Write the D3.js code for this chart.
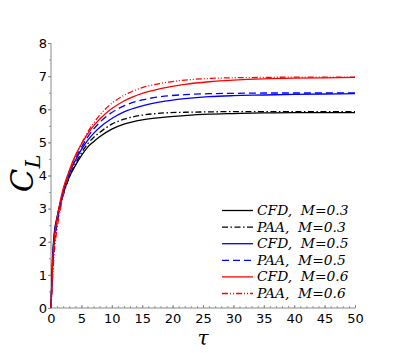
<!DOCTYPE html>
<html>
<head>
<meta charset="utf-8">
<script src="https://cdn.jsdelivr.net/npm/d3@7"></script>
<style>
  body { margin: 0; background: #fff; }
  .tick text { font-family: "DejaVu Sans", sans-serif; font-size: 13px; fill: #000; }
  .legend text { font-family: "DejaVu Serif", serif; font-style: italic; font-size: 13.8px; white-space: pre; }
</style>
</head>
<body>
<div id="chart"></div>
<script>
// time samples (tau)
let tau = [0, 0.25, 0.5, 1, 1.5, 2, 3, 4, 5, 6, 7, 8, 10, 12, 15, 18, 22, 26, 30, 35, 40, 45, 50];

let cfd03 = [0, 1.5, 2.2, 2.75, 3.15, 3.45, 3.95, 4.3, 4.6, 4.85, 5.02, 5.17, 5.4, 5.55, 5.68, 5.75, 5.81, 5.85, 5.87, 5.89, 5.9, 5.9, 5.9];
let paa03 = [0, 1.2, 1.9, 2.6, 3.05, 3.4, 3.95, 4.35, 4.68, 4.95, 5.15, 5.3, 5.55, 5.7, 5.82, 5.88, 5.91, 5.92, 5.93, 5.93, 5.93, 5.93, 5.93];
let cfd05 = [0, 1.4, 2.1, 2.7, 3.15, 3.5, 4.05, 4.45, 4.78, 5.05, 5.27, 5.45, 5.72, 5.92, 6.1, 6.22, 6.32, 6.38, 6.41, 6.43, 6.45, 6.46, 6.47];
let paa05 = [0, 1.1, 1.8, 2.55, 3.05, 3.45, 4.05, 4.5, 4.85, 5.15, 5.4, 5.6, 5.9, 6.1, 6.28, 6.38, 6.44, 6.47, 6.48, 6.49, 6.49, 6.49, 6.49];
let cfd06 = [0, 1.3, 2.0, 2.7, 3.2, 3.6, 4.15, 4.6, 4.95, 5.25, 5.5, 5.7, 6.02, 6.25, 6.48, 6.62, 6.75, 6.83, 6.88, 6.92, 6.94, 6.95, 6.96];
let paa06 = [0, 0.9, 1.6, 2.4, 2.95, 3.4, 4.05, 4.55, 4.95, 5.3, 5.58, 5.82, 6.18, 6.42, 6.65, 6.78, 6.88, 6.93, 6.95, 6.96, 6.97, 6.97, 6.97];

let seriesNames = ["CFD,  M=0.3", "PAA,  M=0.3", "CFD,  M=0.5", "PAA,  M=0.5", "CFD,  M=0.6", "PAA,  M=0.6"];
let xTicks = [0, 5, 10, 15, 20, 25, 30, 35, 40, 45, 50];
let yTicks = [0, 1, 2, 3, 4, 5, 6, 7, 8];

let series = [
    {name: seriesNames[0], values: cfd03, color: "#000000", dash: null},
    {name: seriesNames[1], values: paa03, color: "#000000", dash: "6,2.5,1.5,2.5"},
    {name: seriesNames[2], values: cfd05, color: "#0000ff", dash: null},
    {name: seriesNames[3], values: paa05, color: "#0000ff", dash: "7,4"},
    {name: seriesNames[4], values: cfd06, color: "#ff0000", dash: null},
    {name: seriesNames[5], values: paa06, color: "#ff0000", dash: "6,2,1,2,1,2"},
];

let margin = {top: 43, right: 52, bottom: 45, left: 51},
    width = 407 - margin.left - margin.right,
    height = 353 - margin.top - margin.bottom;

let svg = d3.select("#chart").append("svg")
    .attr("width", 407)
    .attr("height", 353)
    .append("g")
    .attr("transform", "translate(" + margin.left + "," + margin.top + ")");

let xScale = d3.scaleLinear().domain([0, 50]).range([0, width]);
let yScale = d3.scaleLinear().domain([0, 8]).range([height, 0]);

// minor ticks
svg.append("g")
    .attr("transform", "translate(0," + height + ")")
    .call(d3.axisBottom(xScale).tickValues(d3.range(0, 51, 1)).tickSize(-2).tickFormat(""))
    .call(g => g.select(".domain").remove())
    .selectAll("line").attr("stroke", "#999");

svg.append("g")
    .call(d3.axisLeft(yScale).tickValues(d3.range(0, 8.01, 0.5)).tickSize(2).tickFormat(""))
    .call(g => g.select(".domain").remove())
    .selectAll("line").attr("stroke", "#999");

let xAxis = svg.append("g")
    .attr("transform", "translate(0," + height + ")")
    .call(d3.axisBottom(xScale).tickValues(xTicks).tickSize(-3).tickPadding(6));
xAxis.select(".domain").attr("stroke", "#888").attr("d", "M0,0H" + width);
xAxis.selectAll(".tick line").attr("stroke", "#888");

let yAxis = svg.append("g")
    .call(d3.axisLeft(yScale).tickValues(yTicks).tickSize(3).tickPadding(1));
yAxis.select(".domain").attr("stroke", "#888").attr("d", "M0," + height + "V0");
yAxis.selectAll(".tick line").attr("stroke", "#888");

let line = d3.line()
    .x((d, i) => xScale(tau[i]))
    .y((d) => yScale(d))
    .curve(d3.curveMonotoneX);

svg.selectAll(".series")
    .data(series)
    .enter().append("path")
    .attr("class", "series")
    .attr("fill", "none")
    .attr("stroke", (d) => d.color)
    .attr("stroke-width", 1.3)
    .attr("stroke-dasharray", (d) => d.dash)
    .attr("d", (d) => line(d.values));

// axis labels
svg.append("text")
    .attr("transform", "translate(-18," + (height / 2 - 2) + ") rotate(-90)")
    .attr("text-anchor", "middle")
    .style("font-family", "DejaVu Serif, serif")
    .style("font-style", "italic")
    .style("font-size", "31px")
    .html("C<tspan font-size='21px' dy='7'>L</tspan>");

svg.append("text")
    .attr("x", xScale(25))
    .attr("y", height + 37)
    .attr("text-anchor", "middle")
    .style("font-family", "DejaVu Serif, serif")
    .style("font-style", "italic")
    .style("font-size", "20px")
    .text("τ");

// legend
let legend = svg.append("g")
    .attr("class", "legend")
    .attr("transform", "translate(" + (222 - margin.left) + "," + (210.5 - margin.top) + ")");

let rows = legend.selectAll("g")
    .data(series)
    .enter().append("g")
    .attr("transform", (d, i) => "translate(0," + i * 16.6 + ")");

rows.append("line")
    .attr("x1", 0).attr("x2", 31)
    .attr("stroke", (d) => d.color)
    .attr("stroke-width", 1.3)
    .attr("stroke-dasharray", (d) => d.dash);

rows.append("text")
    .attr("x", 35)
    .attr("y", 4.5)
    .text((d) => d.name);
</script>
</body>
</html>
